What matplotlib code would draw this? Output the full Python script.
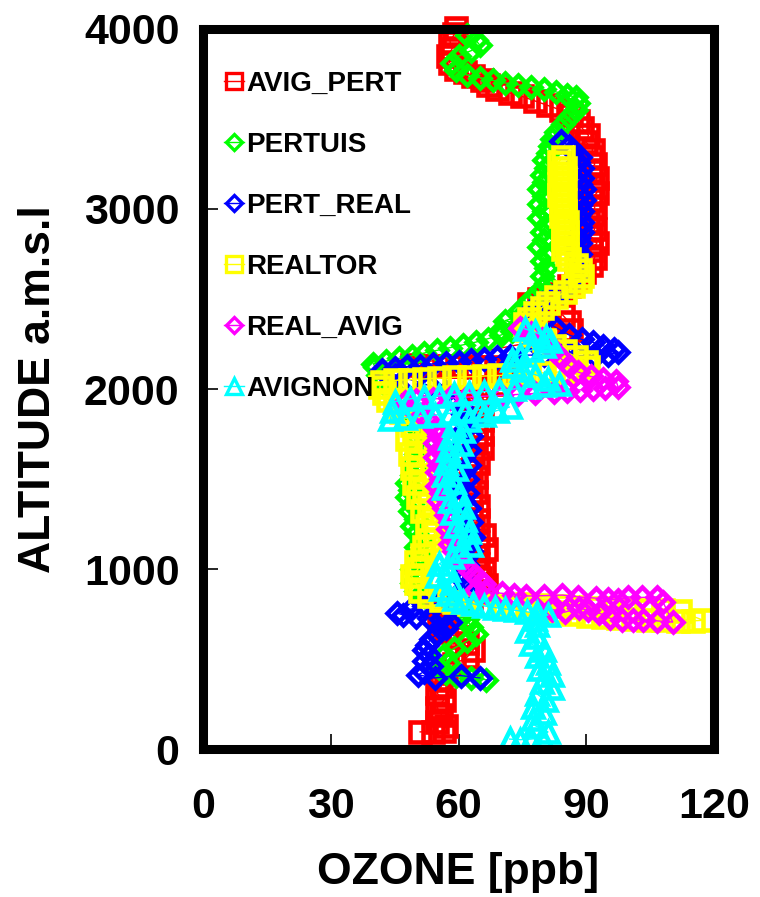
import matplotlib
matplotlib.use("Agg")
import matplotlib.pyplot as plt

# Ozone profiles (ppb) against altitude (m a.s.l.), one flight leg per series

avig_pert_o3 = [51, 54, 56.5, 57, 55,
                56, 55, 56.5, 55, 56, 55.5, 57,
                59, 62, 63.5, 62, 60,
                57, 55.5, 57, 56,
                60, 63, 65.5, 66.5, 65, 66, 64.5,
                64, 66.5, 64.5, 66, 63.5, 64.5, 63, 64.5, 63, 64, 62.5, 64, 63, 64.5, 63.5, 65.5,
                64, 65.5, 64, 65.5, 63.5, 64.5, 63,
                66, 69, 72, 73, 70, 67, 64, 61, 58, 55, 52, 49,
                84, 86.5, 86, 84.5, 80, 76.5, 79, 84, 86, 87.5, 89.5, 91, 92, 91, 92.5, 91, 92,
                90.5, 91.5, 92, 91, 92.5, 91.5, 92.5, 91, 92, 91, 91.5, 90, 90.5, 89, 88, 86.5,
                84, 81, 78, 75, 72, 69, 67, 65.5, 63.5, 61.5, 59.5, 58, 57.5, 58.5, 58, 59, 59.5]
avig_pert_alt = [95, 95, 100, 130, 150,
                 190, 230, 270, 310, 350, 390, 430,
                 470, 510, 550, 590, 620,
                 650, 690, 730, 770,
                 800, 830, 870, 910, 950, 990, 1030,
                 1070, 1110, 1150, 1190, 1230, 1270, 1310, 1350, 1390, 1430, 1470, 1510, 1550,
                 1590, 1630, 1670, 1710, 1750, 1790, 1830, 1870, 1910, 1950,
                 1990, 2030, 2070, 2100, 2115, 2120, 2120, 2125, 2125, 2130, 2130, 2135,
                 2290, 2330, 2370, 2410, 2440, 2470, 2500, 2530, 2570, 2610, 2650, 2690, 2730,
                 2770, 2810, 2850, 2890, 2930, 2970, 3010, 3050, 3090, 3130, 3170, 3210, 3250,
                 3290, 3330, 3370, 3410, 3450, 3490, 3520, 3550, 3575, 3600, 3625, 3645, 3665,
                 3690, 3715, 3740, 3760, 3780, 3810, 3850, 3890, 3930, 3970, 4005]

pertuis_o3 = [66.5, 63, 59.5, 57, 56, 57.5, 56.5, 59, 62, 64, 63, 62, 60.5, 58, 55,
              52, 50, 49, 50.5, 49, 50.5, 51, 50, 51.5, 50, 49, 50, 48.5, 49, 48, 48.5, 48, 49,
              49.5, 49, 50, 51, 50.5, 51, 50, 49, 48, 47, 46, 44, 42, 41, 40.5,
              40, 43, 46, 49, 52, 55, 58, 61, 64, 67, 70,
              72.5, 70, 75, 71, 75, 74.5, 76, 77, 78.5, 79.5, 80.5, 79.5, 80.5, 79.5, 80.5, 79,
              80, 79.5, 80.5, 79, 80, 79, 80, 79, 80, 79.5, 80.5, 80, 81, 81.5, 82, 83, 84.5, 86,
              87.5, 88, 87.5,
              85.5, 83, 80, 77, 74, 71, 68, 65, 62, 59.5, 58.5, 60, 63, 65, 64, 62]
pertuis_alt = [385, 395, 405, 420, 440, 480, 520, 560, 600, 640, 680, 720, 760, 790, 820,
               850, 880, 920, 960, 1000, 1040, 1080, 1120, 1160, 1200, 1240, 1280, 1320, 1360,
               1400, 1440, 1480, 1520, 1560, 1600, 1640, 1680, 1720, 1760, 1800, 1840, 1880, 1920,
               1960, 2000, 2040, 2080, 2120,
               2140, 2155, 2170, 2185, 2200, 2215, 2230, 2245, 2260, 2280, 2300,
               2320, 2330, 2350, 2380, 2410, 2440, 2470, 2500, 2530, 2560, 2590, 2630, 2670, 2710,
               2750, 2790, 2830, 2870, 2910, 2950, 2990, 3030, 3070, 3110, 3150, 3190, 3230, 3270,
               3310, 3350, 3390, 3430, 3470, 3510, 3550, 3590, 3620,
               3635, 3650, 3665, 3680, 3690, 3700, 3715, 3730, 3745, 3770, 3810, 3850, 3880, 3910,
               3940, 3965]

pert_real_o3 = [84, 86, 87, 88.5, 88, 89, 88, 89, 88.5, 89.5, 88.5, 89.5, 88.5, 89, 88, 89, 88.5,
                89, 88, 88.5, 87.5, 88.5, 87.5, 88.5, 88, 88, 87, 86, 84.5, 82, 79.5, 77.5, 78,
                80, 83, 86,
                89, 91.5, 94, 96.5, 97.5, 95, 92, 88, 84, 80, 76, 72, 69, 66, 63, 60, 57, 54, 51,
                48, 45, 42,
                45, 49, 53, 57, 59, 60.5,
                61, 63, 61.5, 63, 61, 62.5, 61, 62.5, 61, 62, 60.5, 62, 61, 62.5, 61.5, 63, 62,
                63.5, 62.5, 63, 61.5, 62, 61,
                61, 61.5, 60, 58, 55, 52, 48.5, 45.5, 47, 50, 53, 56, 58,
                57, 55, 53.5, 52.5, 52, 53, 52, 53.5, 52, 50.5, 54.5, 60.5, 65]
pert_real_alt = [3380, 3350, 3320, 3290, 3260, 3230, 3200, 3170, 3140, 3110, 3080, 3050, 3020,
                 2990, 2960, 2930, 2900, 2870, 2840, 2810, 2780, 2750, 2720, 2690, 2660, 2630,
                 2600, 2570, 2540, 2510, 2480, 2450, 2420, 2380, 2340, 2300,
                 2275, 2260, 2240, 2220, 2205, 2190, 2185, 2185, 2190, 2190, 2188, 2185, 2175,
                 2165, 2160, 2150, 2145, 2140, 2130, 2125, 2115, 2105,
                 2080, 2050, 2020, 1985, 1945, 1900,
                 1860, 1820, 1780, 1740, 1700, 1660, 1620, 1580, 1540, 1500, 1460, 1420, 1380,
                 1340, 1300, 1260, 1220, 1180, 1140, 1100, 1060, 1020, 980,
                 940, 900, 860, 830, 810, 795, 775, 755, 745, 735, 728, 720, 705,
                 670, 640, 610, 580, 550, 520, 490, 460, 430, 412, 395, 408, 395]

realtor_o3 = [84.5, 83.5, 85, 84, 85, 83.5, 84.5, 83.5, 85, 84, 85, 84, 85.5, 84.5, 85.5, 84.5,
              85.5, 84.5, 85.5, 86, 87.5, 88.5, 89, 88.5, 87, 85, 83, 81, 79.5, 78, 76.5, 75.5,
              76, 78, 80, 82.5, 85, 87.5, 90, 90.5, 87,
              84, 80, 76.5, 73, 69.5, 66, 62.5, 59, 55.5, 52, 48.5, 45, 42,
              41.5, 42.5, 43.5, 45, 46.5, 48, 49,
              49.5, 48, 50, 48.5, 50.5, 49, 51, 49.5, 52, 50.5, 53, 51.5, 54, 52.5, 54.5, 53, 52,
              51.5, 50, 50.5, 49, 50, 51,
              53, 56, 59, 62.5, 66, 69.5, 73, 76.5, 80, 83.5, 87, 90.5, 94, 97.5, 101, 104.5,
              108, 111.5, 115, 117.5,
              112, 108, 104, 100, 96, 92, 88, 84, 80, 76]
realtor_alt = [3290, 3260, 3230, 3200, 3170, 3140, 3110, 3080, 3050, 3020, 2990, 2960, 2930,
               2900, 2870, 2840, 2810, 2780, 2750, 2720, 2690, 2660, 2630, 2600, 2570, 2540,
               2510, 2480, 2450, 2420, 2390, 2360, 2330, 2300, 2270, 2240, 2210, 2180, 2150,
               2120, 2100,
               2095, 2090, 2085, 2080, 2075, 2072, 2068, 2065, 2060, 2056, 2052, 2048, 2040,
               2010, 1975, 1940, 1905, 1870, 1835, 1800,
               1760, 1720, 1680, 1640, 1600, 1560, 1520, 1480, 1440, 1400, 1360, 1320, 1280,
               1240, 1200, 1160, 1120, 1080, 1040, 1000, 960, 920, 880,
               850, 830, 815, 805, 800, 795, 788, 780, 770, 760, 750, 740, 732, 726, 722, 718,
               714, 712, 712, 715,
               765, 770, 775, 778, 782, 786, 790, 795, 800, 805]

real_avig_o3 = [74.5, 77, 79.5, 81, 82.5, 84, 86, 88, 91, 94, 97,
                97.5, 94.5, 91.5, 88.5, 85.5, 82.5, 78, 74, 70, 66, 62, 58, 54, 50, 47.5,
                49, 51.5, 53,
                54.5, 55.5, 54.5, 55.5, 54.5, 55.5, 55, 56, 55, 56, 55.5, 56.5, 57, 58, 57.5,
                58.5, 58, 59, 60, 61.5, 63, 64.5, 66, 64, 66.5,
                70.3, 73, 75.9, 80, 84.4, 88, 92.4, 95, 97.4, 99.7, 103, 106.5, 108, 110.3,
                106.5, 103.3, 101, 98.5, 95.5, 93.1, 90.5, 88.4, 84.9, 82]
real_avig_alt = [2340, 2310, 2280, 2250, 2210, 2170, 2130, 2095, 2070, 2055, 2045,
                 2010, 2005, 2000, 1995, 1990, 1985, 1975, 1970, 1965, 1960, 1955, 1950, 1945,
                 1940, 1925,
                 1890, 1855, 1820,
                 1780, 1740, 1700, 1660, 1620, 1580, 1540, 1500, 1460, 1420, 1380, 1340, 1300,
                 1260, 1220, 1180, 1140, 1100, 1060, 1020, 985, 950, 915, 885, 870,
                 865, 858, 850, 852, 855, 845, 838, 832, 828, 845, 842, 845, 817, 705,
                 712, 717, 716, 717, 727, 755, 770, 783, 760, 775]

avignon_o3 = [72, 74.5, 77, 79.5, 81, 78, 77.5, 80, 77.5, 80.5, 78.5, 82, 79.5, 82, 79, 81,
              78.5, 80, 77, 78.5, 76, 78.5, 78, 81,
              78.5, 76, 73.5, 71, 68.5, 66, 63.5, 61, 59, 57.5,
              56, 58.5, 55, 57.5, 55.5, 58.5, 60.5, 63, 60, 62.5, 59.5, 61.5, 58.5, 61, 58, 60,
              56.5, 59, 56.5, 59.5, 57, 60, 57.5, 60.5, 58, 61, 59,
              62.5, 66, 69, 72,
              68.5, 65, 61.5, 58, 54.5, 51, 47.5, 44, 44.5, 45,
              48.5, 52, 55.5, 59, 62.5, 66, 69.5, 73, 76.5, 80, 83.5,
              81, 78, 75, 73, 72.5, 74.5, 77, 80, 81.5, 80.5, 78, 75.5]
avignon_alt = [55, 52, 55, 62, 95, 130, 165, 200, 235, 270, 305, 340, 375, 410, 445, 480, 515,
               550, 585, 620, 655, 690, 720, 745,
               755, 762, 770, 778, 786, 795, 806, 818, 835, 860,
               890, 925, 960, 995, 1030, 1065, 1100, 1135, 1170, 1205, 1240, 1275, 1310, 1345,
               1380, 1415, 1450, 1485, 1520, 1555, 1590, 1625, 1660, 1695, 1730, 1765, 1800,
               1830, 1855, 1880, 1900,
               1892, 1885, 1875, 1865, 1855, 1848, 1840, 1832, 1880, 1930,
               1945, 1955, 1962, 1970, 1978, 1985, 1993, 2000, 2010, 2020, 2030,
               2055, 2080, 2105, 2130, 2160, 2190, 2215, 2240, 2265, 2290, 2315, 2335]

series = [
    ("AVIG_PERT", avig_pert_o3, avig_pert_alt, "#ff0000", "s", 14),
    ("PERTUIS", pertuis_o3, pertuis_alt, "#00ff00", "D", 10.5),
    ("PERT_REAL", pert_real_o3, pert_real_alt, "#0000ff", "D", 10.5),
    ("REALTOR", realtor_o3, realtor_alt, "#ffff00", "s", 14),
    ("REAL_AVIG", real_avig_o3, real_avig_alt, "#ff00ff", "D", 10.5),
    ("AVIGNON", avignon_o3, avignon_alt, "#00ffff", "^", 15),
]

bold = {"family": "Liberation Sans", "weight": "bold"}

fig = plt.figure(figsize=(7.6, 8.97), dpi=100)
ax = fig.add_axes([203 / 760, 1 - 749 / 897, 511 / 760, 720 / 897])

# open markers, thin joining line; markers may poke over the frame at the top
for name, o3, alt, color, marker, ms in series:
    ax.plot(o3, alt, color=color, lw=1, marker=marker, ms=ms, mfc="none",
            mec=color, mew=3.3, label=name, clip_on=False)

ax.set_xlim(0, 120)
ax.set_ylim(0, 4000)
ax.set_xticks([0, 30, 60, 90, 120])
ax.set_yticks([0, 1000, 2000, 3000, 4000])
ax.tick_params(direction="in", length=11, width=1.2, color="black")
ax.tick_params(axis="x", pad=27)
ax.tick_params(axis="y", pad=17)
for lab in ax.get_xticklabels():
    lab.set_fontfamily(["Liberation Sans Narrow", "Liberation Sans"])
    lab.set_fontweight("bold")
    lab.set_fontsize(31)
for lab in ax.get_yticklabels():
    lab.set_fontfamily("Liberation Sans")
    lab.set_fontweight("bold")
    lab.set_fontsize(31)

for sp in ax.spines.values():
    sp.set_linewidth(6.5)

ax.set_xlabel("OZONE [ppb]", fontsize=32, **bold)
ax.set_ylabel("ALTITUDE a.m.s.l", fontsize=32, **bold)
ax.xaxis.set_label_coords(0.5, -0.143)
ax.yaxis.set_label_coords(-0.282, 0.5)

leg = ax.legend(loc="upper left", bbox_to_anchor=(0.02, 0.957), frameon=False,
                prop={"family": "Liberation Sans", "weight": "bold", "size": 20},
                handlelength=0.7, handletextpad=0.1, labelspacing=1.26,
                borderaxespad=0, markerscale=0.8)
for h in leg.legend_handles:
    h.set_markeredgewidth(2.4)

fig.savefig("out.png", dpi=100)
